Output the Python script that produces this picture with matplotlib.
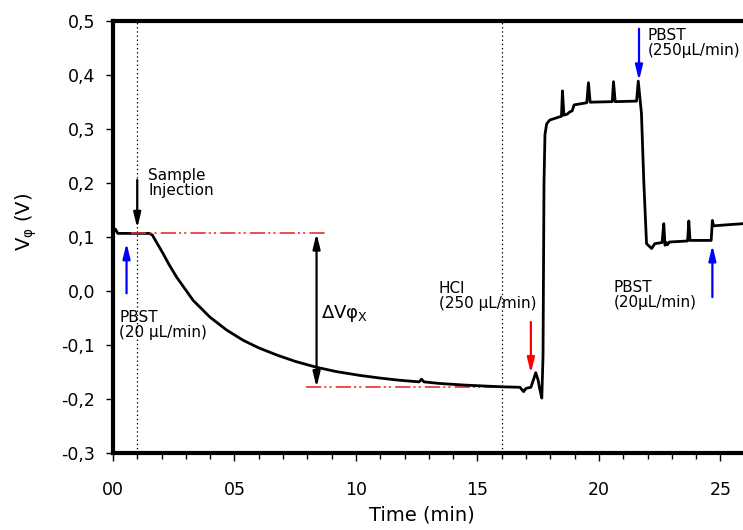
import matplotlib
matplotlib.use('Agg')
import matplotlib.pyplot as plt
from matplotlib.ticker import MultipleLocator, FuncFormatter

# sensor trace
time_min = [0.0, 0.1, 0.2, 1.0, 1.5, 1.62, 1.8, 2.06, 2.3, 2.62, 3.0, 3.3, 3.99, 4.68,
            5.36, 6.0, 6.73, 7.5, 8.38, 9.2, 10.16, 11.0, 11.8, 12.6, 12.7, 12.8, 13.46,
            14.5, 15.93, 16.75, 16.9, 17.0, 17.2, 17.3, 17.4, 17.5, 17.55, 17.65, 17.7,
            17.74, 17.78, 17.85, 17.98, 18.46, 18.5, 18.56, 18.7, 18.8, 18.9, 18.98, 19.5,
            19.57, 19.64, 20.55, 20.6, 20.67, 21.55, 21.62, 21.7, 21.75, 21.85, 21.96,
            22.17, 22.3, 22.6, 22.67, 22.72, 22.78, 22.82, 22.9, 23.65, 23.7, 23.75,
            24.62, 24.67, 24.72, 25.3, 25.93]
v_phi = [0.108, 0.115, 0.107, 0.107, 0.107, 0.104, 0.09, 0.070, 0.05, 0.026, 0.002, -0.017,
         -0.048, -0.072, -0.091, -0.105, -0.118, -0.130, -0.141, -0.149, -0.156, -0.161,
         -0.165, -0.168, -0.163, -0.168, -0.171, -0.174, -0.177, -0.178, -0.186, -0.180,
         -0.178, -0.165, -0.151, -0.165, -0.178, -0.198, -0.12, 0.2, 0.29, 0.31, 0.317,
         0.324, 0.371, 0.326, 0.328, 0.332, 0.334, 0.345, 0.349, 0.386, 0.350, 0.351,
         0.388, 0.351, 0.352, 0.389, 0.352, 0.33, 0.2, 0.088, 0.079, 0.088, 0.090, 0.125,
         0.085, 0.090, 0.086, 0.091, 0.093, 0.130, 0.094, 0.094, 0.131, 0.121, 0.123, 0.125]

x_ticks = [0, 5, 10, 15, 20, 25]
y_ticks = [-0.3, -0.2, -0.1, 0.0, 0.1, 0.2, 0.3, 0.4, 0.5]

v_start = 0.107
v_end = -0.178
t_injection = 1.0
t_hcl_mark = 16.0

plt.rcParams['font.family'] = ['DejaVu Sans']
plt.rcParams['lines.scale_dashes'] = False

fig = plt.figure(figsize=(7.43, 5.30), dpi=100)
ax = fig.add_axes([0.152, 0.145, 0.848, 0.815])

ax.plot(time_min, v_phi, color='black', lw=2.0, zorder=3)

# dotted markers and baseline lines
ax.axvline(t_injection, color='black', ls=(0, (1, 2)), lw=0.9, zorder=1)
ax.axvline(t_hcl_mark, color='black', ls=(0, (1, 2)), lw=0.9, zorder=1)
dashdotdot = (0, (11, 2.2, 1.5, 2.2, 1.5, 3))
ax.plot([0.75, 8.8], [v_start, v_start], color='#e8302a', lw=1.2, ls=dashdotdot, zorder=4)
ax.plot([7.95, 16.1], [v_end, v_end], color='#e8302a', lw=1.2, ls=dashdotdot, zorder=2)

# arrows
def arrow(x0, y0, x1, y1, color, style='-|>'):
    ax.annotate('', xy=(x1, y1), xytext=(x0, y0),
                arrowprops=dict(arrowstyle=style + ',head_length=0.9,head_width=0.22',
                                color=color, lw=1.6, shrinkA=0, shrinkB=0), zorder=5)

arrow(1.0, 0.206, 1.0, 0.117, 'black')
arrow(0.56, -0.004, 0.56, 0.089, 'blue')
arrow(17.2, -0.057, 17.2, -0.152, 'red')
arrow(21.65, 0.486, 21.65, 0.39, 'blue')
arrow(24.67, -0.011, 24.67, 0.085, 'blue')
arrow(8.38, v_end, 8.38, v_start, 'black', style='<|-|>')

fs = 11
ax.text(1.45, 0.228, 'Sample\nInjection', fontsize=fs, va='top', ha='left', linespacing=1.0)
ax.text(0.27, -0.034, 'PBST\n(20 \u00b5L/min)', fontsize=fs, va='top', ha='left', linespacing=1.0)
ax.text(13.4, 0.018, 'HCl\n(250 \u00b5L/min)', fontsize=fs, va='top', ha='left', linespacing=1.0)
ax.text(22.0, 0.488, 'PBST\n(250\u00b5L/min)', fontsize=fs, va='top', ha='left', linespacing=1.0)
ax.text(20.6, 0.021, 'PBST\n(20\u00b5L/min)', fontsize=fs, va='top', ha='left', linespacing=1.0)
ax.text(8.55, -0.041, '\u0394V\u03c6$_\\mathregular{X}$', fontsize=13, va='center', ha='left')

ax.set_xlim(0, 25.93)
ax.set_ylim(-0.3, 0.5)
ax.set_xticks(x_ticks)
ax.xaxis.set_minor_locator(MultipleLocator(1))
ax.set_yticks(y_ticks)
ax.xaxis.set_major_formatter(FuncFormatter(lambda v, p: '%02d' % v))
ax.yaxis.set_major_formatter(FuncFormatter(lambda v, p: ('%.1f' % v).replace('.', ',').replace('-0,0', '0,0')))
ax.tick_params(axis='both', which='major', labelsize=12.5, length=5, width=1.0, direction='out')
ax.tick_params(axis='y', which='major', pad=8)
ax.tick_params(axis='x', which='major', length=6, pad=14)
ax.tick_params(axis='x', which='minor', length=4, width=1.0, direction='out')

for s in ['left', 'bottom', 'top']:
    ax.spines[s].set_linewidth(3)
ax.spines['right'].set_visible(False)

ax.set_xlabel('Time (min)', fontsize=14)
ax.set_ylabel('V$_\\mathregular{\u03c6}$ (V)', fontsize=14)
ax.xaxis.set_label_coords(0.49, -0.122)
ax.yaxis.set_label_coords(-0.117, 0.535)

fig.savefig('out.png', dpi=100)
